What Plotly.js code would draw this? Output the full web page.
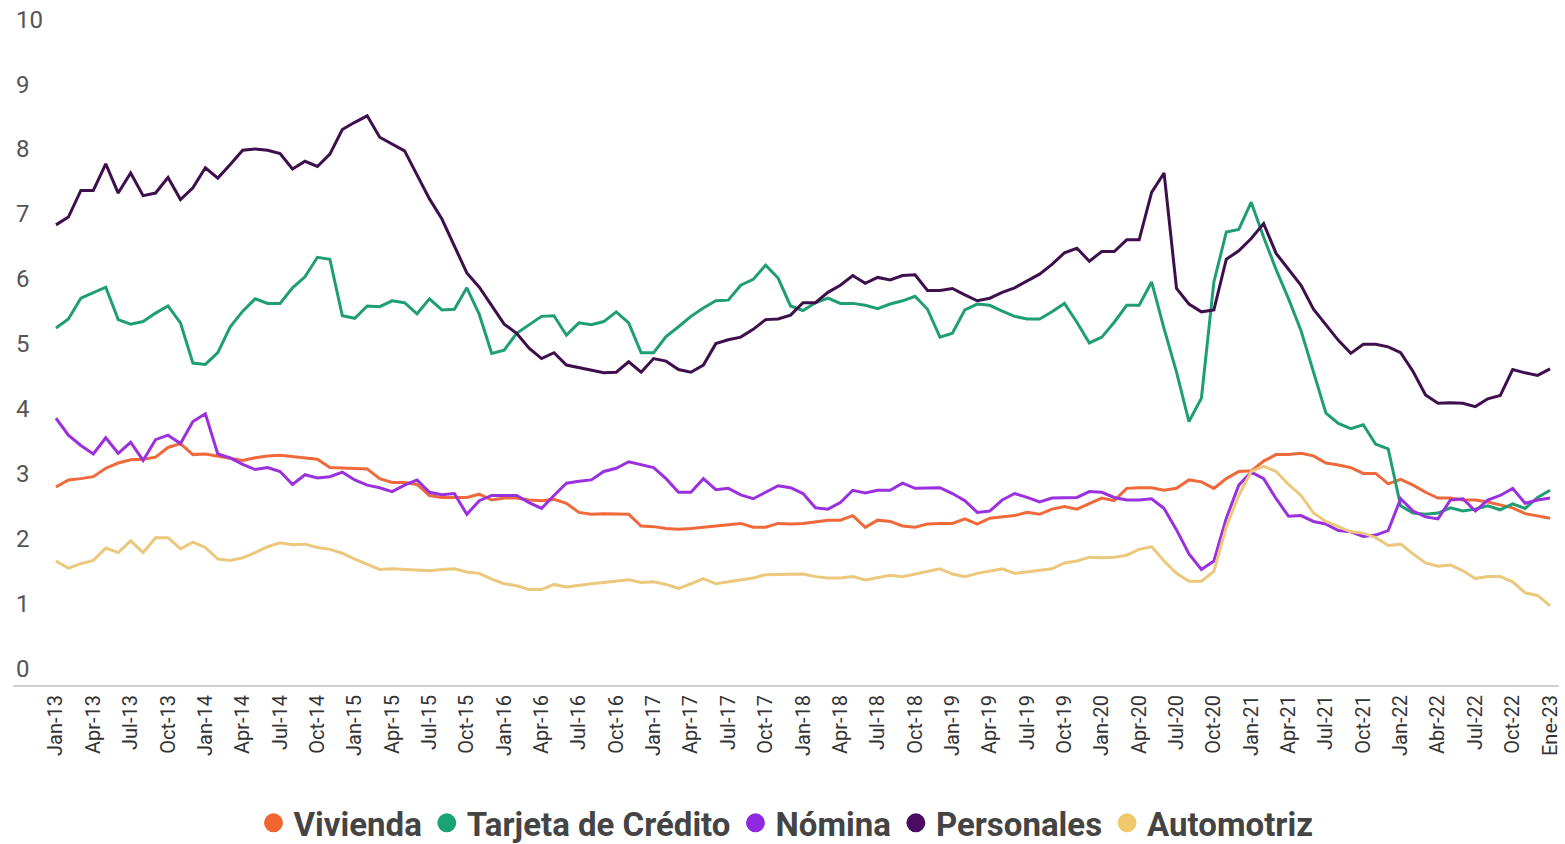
<!DOCTYPE html>
<html>
<head>
<meta charset="utf-8">
<script src="https://cdn.plot.ly/plotly-3.0.1.min.js"></script>
<style>
html,body{margin:0;padding:0;background:#fff;}
#chart{width:1565px;height:844px;}
</style>
</head>
<body>
<div id="chart"></div>
<script>
// Monthly categories Jan-2013 .. Jan-2023
var months = [];
for (var y = 2013; y <= 2023; y++) {
  for (var m = 1; m <= 12; m++) {
    if (months.length < 121) months.push(y + '-' + (m < 10 ? '0' + m : m));
  }
}

var tickLabels = ['Jan-13','Apr-13','Jul-13','Oct-13','Jan-14','Apr-14','Jul-14','Oct-14',
  'Jan-15','Apr-15','Jul-15','Oct-15','Jan-16','Apr-16','Jul-16','Oct-16',
  'Jan-17','Apr-17','Jul-17','Oct-17','Jan-18','Apr-18','Jul-18','Oct-18',
  'Jan-19','Apr-19','Jul-19','Oct-19','Jan-20','Apr-20','Jul-20','Oct-20',
  'Jan-21','Apr-21','Jul-21','Oct-21','Jan-22','Abr-22','Jul-22','Oct-22','Ene-23'];
var tickMonths = months.filter(function (d, i) { return i % 3 === 0; });

var yTicks = [0, 1, 2, 3, 4, 5, 6, 7, 8, 9, 10];
var yTickLabels = ['0', '1', '2', '3', '4', '5', '6', '7', '8', '9', '10'];

var seriesNames = ['Vivienda', 'Tarjeta de Crédito', 'Nómina', 'Personales', 'Automotriz'];

var vivienda = [3.05,3.16,3.18,3.21,3.34,3.42,3.47,3.48,3.51,3.66,
  3.72,3.55,3.56,3.53,3.50,3.46,3.50,3.53,3.54,3.52,
  3.50,3.48,3.35,3.34,3.34,3.33,3.18,3.12,3.12,3.09,
  2.92,2.89,2.89,2.89,2.94,2.85,2.88,2.88,2.85,2.84,
  2.86,2.80,2.66,2.63,2.64,2.64,2.63,2.45,2.44,2.41,
  2.40,2.41,2.43,2.45,2.47,2.49,2.43,2.43,2.49,2.48,
  2.49,2.52,2.54,2.54,2.61,2.43,2.54,2.52,2.45,2.43,
  2.48,2.49,2.49,2.56,2.48,2.57,2.59,2.61,2.66,2.63,
  2.71,2.75,2.71,2.80,2.88,2.84,3.03,3.04,3.04,3.00,
  3.03,3.16,3.13,3.03,3.18,3.29,3.30,3.45,3.55,3.55,
  3.57,3.53,3.42,3.39,3.35,3.26,3.26,3.10,3.17,3.08,
  2.97,2.88,2.88,2.85,2.85,2.82,2.77,2.73,2.64,2.60,2.57];

var tarjeta = [5.50,5.64,5.96,6.04,6.13,5.63,5.56,5.60,5.73,5.84,
  5.58,4.96,4.94,5.12,5.52,5.76,5.95,5.88,5.88,6.12,
  6.29,6.59,6.56,5.69,5.65,5.84,5.83,5.92,5.89,5.72,
  5.95,5.78,5.79,6.12,5.71,5.11,5.16,5.42,5.55,5.68,
  5.69,5.39,5.58,5.55,5.60,5.75,5.58,5.12,5.12,5.37,
  5.52,5.68,5.81,5.92,5.93,6.16,6.25,6.47,6.27,5.84,
  5.77,5.89,5.96,5.88,5.88,5.85,5.80,5.87,5.92,5.99,
  5.79,5.36,5.42,5.78,5.87,5.85,5.76,5.68,5.64,5.64,
  5.75,5.88,5.59,5.27,5.36,5.59,5.85,5.85,6.21,5.49,
  4.82,4.06,4.42,6.21,6.98,7.02,7.44,6.90,6.40,5.95,
  5.46,4.83,4.19,4.03,3.95,4.01,3.71,3.64,2.76,2.65,
  2.63,2.65,2.73,2.68,2.71,2.76,2.70,2.79,2.72,2.89,3.00];

var nomina = [4.11,3.85,3.69,3.56,3.81,3.57,3.74,3.46,3.78,3.85,
  3.72,4.06,4.18,3.56,3.50,3.40,3.32,3.35,3.29,3.09,
  3.24,3.19,3.21,3.28,3.16,3.08,3.04,2.98,3.08,3.16,
  2.97,2.93,2.95,2.63,2.84,2.92,2.92,2.92,2.81,2.72,
  2.92,3.11,3.14,3.16,3.29,3.34,3.44,3.40,3.35,3.18,
  2.97,2.97,3.18,3.01,3.03,2.93,2.87,2.97,3.07,3.04,
  2.95,2.73,2.71,2.81,3.00,2.96,3.00,3.00,3.11,3.03,
  3.03,3.04,2.95,2.84,2.66,2.68,2.85,2.95,2.89,2.82,
  2.88,2.88,2.89,2.98,2.97,2.89,2.85,2.85,2.87,2.72,
  2.39,2.02,1.78,1.91,2.57,3.08,3.28,3.18,2.87,2.60,
  2.61,2.52,2.48,2.38,2.36,2.29,2.31,2.38,2.87,2.68,
  2.59,2.56,2.85,2.87,2.68,2.85,2.92,3.03,2.80,2.85,2.88];

var personales = [7.09,7.21,7.62,7.62,8.03,7.58,7.89,7.54,7.58,7.82,
  7.48,7.66,7.97,7.81,8.02,8.24,8.26,8.24,8.19,7.95,
  8.07,7.99,8.18,8.56,8.67,8.77,8.44,8.34,8.23,7.86,
  7.49,7.18,6.77,6.35,6.13,5.84,5.56,5.42,5.19,5.03,
  5.12,4.93,4.89,4.86,4.81,4.82,4.98,4.82,5.03,4.99,
  4.86,4.82,4.93,5.26,5.32,5.36,5.48,5.63,5.64,5.70,
  5.89,5.89,6.05,6.16,6.31,6.19,6.28,6.24,6.31,6.32,
  6.08,6.08,6.11,6.01,5.92,5.96,6.05,6.12,6.22,6.33,
  6.48,6.66,6.73,6.53,6.68,6.68,6.86,6.86,7.59,7.89,
  6.11,5.87,5.75,5.78,6.56,6.69,6.88,7.11,6.65,6.40,
  6.16,5.79,5.55,5.31,5.11,5.25,5.25,5.21,5.12,4.83,
  4.47,4.34,4.35,4.34,4.29,4.41,4.46,4.86,4.81,4.77,4.87];

var automotriz = [1.91,1.80,1.87,1.92,2.11,2.04,2.22,2.04,2.27,2.27,
  2.10,2.20,2.12,1.94,1.92,1.96,2.04,2.13,2.19,2.16,
  2.17,2.12,2.09,2.03,1.94,1.86,1.78,1.79,1.78,1.78,
  1.76,1.78,1.79,1.74,1.72,1.63,1.56,1.53,1.47,1.47,
  1.55,1.51,1.54,1.56,1.58,1.60,1.62,1.58,1.59,1.55,
  1.49,1.56,1.64,1.56,1.59,1.62,1.65,1.70,1.70,1.70,
  1.71,1.67,1.65,1.65,1.67,1.62,1.65,1.69,1.67,1.71,
  1.74,1.79,1.71,1.67,1.72,1.76,1.79,1.72,1.74,1.76,
  1.79,1.88,1.91,1.97,1.96,1.97,2.00,2.09,2.13,1.91,
  1.72,1.60,1.60,1.75,2.44,2.92,3.29,3.37,3.29,3.09,
  2.92,2.65,2.52,2.44,2.36,2.34,2.27,2.15,2.17,2.02,
  1.88,1.83,1.85,1.76,1.64,1.67,1.67,1.59,1.42,1.38,1.22];

var seriesValues = [vivienda, tarjeta, nomina, personales, automotriz];
var lineColors = ['#f0693a', '#1f9e76', '#9a30de', '#3d0f4c', '#ebc87c'];
var dotColors = ['#f26532', '#1aa374', '#8e2be0', '#4a0d63', '#f0c96e'];

var traces = [];
seriesValues.forEach(function (vals, k) {
  traces.push({
    type: 'scatter', mode: 'lines', name: seriesNames[k],
    x: months, y: vals,
    line: {color: lineColors[k], width: 3},
    showlegend: false, hoverinfo: 'skip', legendgroup: 'g' + k
  });
});
seriesNames.forEach(function (n, k) {
  traces.push({
    type: 'scatter', mode: 'markers', name: n,
    x: [null], y: [null],
    marker: {color: dotColors[k], size: 20, line: {color: dotColors[k], width: 3}},
    showlegend: true, legendgroup: 'g' + k, hoverinfo: 'skip'
  });
});

var layout = {
  width: 1565, height: 844,
  margin: {l: 13, r: 6, t: 36, b: 159, pad: 0},
  paper_bgcolor: '#fff', plot_bgcolor: '#fff',
  font: {family: 'Roboto, sans-serif', color: '#333'},
  xaxis: {
    type: 'category', categoryorder: 'array', categoryarray: months,
    range: [-3.45, 120.72],
    tickmode: 'array', tickvals: tickMonths, ticktext: tickLabels,
    tickangle: -90, tickfont: {family: 'Roboto, sans-serif', size: 20, color: '#333'},
    showgrid: false, zeroline: false, ticks: '',
    showline: true, linecolor: '#cfcfcf', linewidth: 2
  },
  yaxis: {
    range: [0, 10], tickmode: 'array', tickvals: yTicks, ticktext: yTickLabels,
    ticklabelposition: 'inside top', ticklabeloverflow: 'allow',
    tickfont: {family: 'Roboto, sans-serif', size: 24, color: '#555'},
    showgrid: false, zeroline: false, ticks: '', showline: false
  },
  showlegend: true,
  legend: {
    orientation: 'h', xref: 'paper', x: 0.5, xanchor: 'center',
    yref: 'container', y: 0.025, yanchor: 'middle',
    font: {family: 'Roboto, sans-serif', size: 33, color: '#444', weight: 'bold'},
    itemwidth: 30, bgcolor: 'rgba(0,0,0,0)', traceorder: 'normal'
  }
};

Plotly.newPlot('chart', traces, layout, {displayModeBar: false, staticPlot: true});
</script>
</body>
</html>
